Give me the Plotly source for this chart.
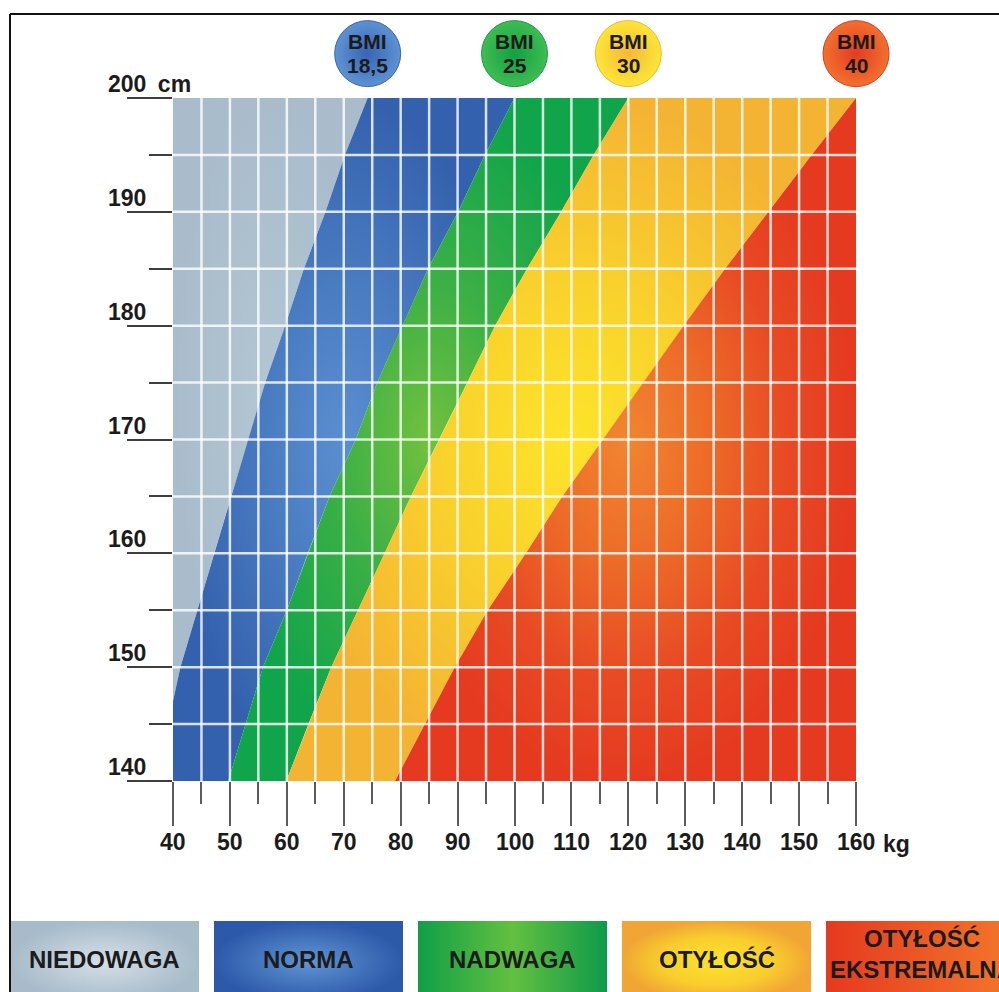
import plotly.graph_objects as go

# Heights (cm) at which the category limits are tabulated
heights = [140, 145, 150, 155, 160, 165, 170, 175, 180, 185, 190, 195, 200]

# Limit between underweight and normal (starts where it enters the chart at 40 kg)
under_heights = [147, 150, 155, 160, 165, 170, 175, 180, 185, 190, 195, 200]
under_limit = [40.0, 41.3, 44.3, 47.2, 50.2, 53.3, 56.2, 59.7, 63.0, 66.8, 70.2, 74.2]

# Limits (kg) at each height in `heights`
normal_limit = [49.7, 52.8, 55.8, 60.0, 63.7, 67.5, 72.1, 75.9, 80.3, 84.8, 90.1, 94.8, 100.0]
over_limit = [59.9, 63.8, 67.8, 72.5, 77.2, 81.8, 86.8, 91.7, 96.6, 102.2, 108.2, 113.9, 120.0]
obese_limit = [79.0, 84.3, 89.5, 95.3, 102.0, 108.4, 115.5, 122.7, 129.7, 137.0, 144.6, 152.2, 160.0]

bmi_labels = ["18,5", "25", "30", "40"]
weight_ticks = [40, 50, 60, 70, 80, 90, 100, 110, 120, 130, 140, 150, 160]
height_ticks = [140, 150, 160, 170, 180, 190, 200]
categories = ["NIEDOWAGA", "NORMA", "NADWAGA", "OTYŁOŚĆ", "OTYŁOŚĆ<br>EKSTREMALNA"]

W, H = 999, 992
X_MIN, X_MAX = weight_ticks[0], weight_ticks[-1]
Y_MIN, Y_MAX = height_ticks[0], height_ticks[-1]

# Chart body spans pixels 98..781 vertically; the y axis is stretched to the
# top of the page so the BMI badges can sit above 200 cm on the same scale.
PLOT_TOP_PX, PLOT_BOTTOM_PX = 98, 781
Y_TOP = Y_MIN + (Y_MAX - Y_MIN) * PLOT_BOTTOM_PX / (PLOT_BOTTOM_PX - PLOT_TOP_PX)

NUM_FONT = "Liberation Sans, Arial, sans-serif"
WORD_FONT = "Liberation Sans Narrow, Arial Narrow, Liberation Sans, Arial, sans-serif"
INK = "#1b1b1b"

fig = go.Figure()


def band(xs, ys, scale, kind="radial"):
    fig.add_trace(go.Scatter(
        x=xs, y=ys, mode="lines", line=dict(width=0), fill="toself",
        fillgradient=dict(type=kind, colorscale=scale),
        hoverinfo="skip", showlegend=False,
    ))


# Underweight
band([X_MIN] + under_limit[::-1], [Y_MAX] + under_heights[::-1],
     [[0, "#b4c6d3"], [1, "#a8bccb"]])
# Normal
band([X_MIN] + under_limit + normal_limit[::-1],
     [Y_MIN] + under_heights + heights[::-1],
     [[0, "#5a8ed0"], [0.45, "#4a7cc2"], [1, "#3461ad"]])
# Overweight
band(normal_limit + over_limit[::-1], heights + heights[::-1],
     [[0, "#72c13e"], [0.45, "#3db045"], [1, "#10a44b"]])
# Obesity
band(over_limit + obese_limit[::-1], heights + heights[::-1],
     [[0, "#fde42a"], [0.45, "#f9d22c"], [1, "#f4b433"]])
# Extreme obesity
band(obese_limit + [X_MAX], heights + [Y_MIN],
     [[0, "#f18530"], [0.35, "#ed6c28"], [0.7, "#e84a24"], [1, "#e53a20"]])

# BMI badges above the top edge, at the weight where each limit meets 200 cm
badge_x = [under_limit[-1], normal_limit[-1], over_limit[-1], obese_limit[-1]]
BADGE_Y = 203.9
fig.add_trace(go.Scatter(
    x=badge_x, y=[BADGE_Y] * len(badge_x), mode="markers", cliponaxis=False,
    marker=dict(size=66,
                color=["#5e92d4", "#3ebd52", "#fde636", "#f3702e"],
                gradient=dict(type="radial",
                              color=["#3865b2", "#12a043", "#f4b838", "#e23c22"]),
                line=dict(width=1, color=["#3a64a8", "#1a9a48", "#efb43a", "#d93a22"])),
    hoverinfo="skip", showlegend=False,
))

# Legend boxes, drawn on a full-page overlay axis in pixel units
BOX_X0, BOX_W, BOX_STEP, BOX_TOP = 10, 189, 204, 921
box_fills = [
    ("radial", [[0, "#d5e0e8"], [1, "#a7bbca"]]),
    ("radial", [[0, "#6196d5"], [1, "#2d59a9"]]),
    ("horizontal", [[0, "#0f9f47"], [0.5, "#63c040"], [1, "#0e9a4a"]]),
    ("radial", [[0, "#fde42b"], [0.6, "#f9cd2d"], [1, "#f1a535"]]),
    ("horizontal", [[0, "#e6391f"], [1, "#f3772a"]]),
]
for i, (kind, scale) in enumerate(box_fills):
    left = BOX_X0 + i * BOX_STEP
    fig.add_trace(go.Scatter(
        x=[left, left + BOX_W, left + BOX_W, left, left],
        y=[BOX_TOP, BOX_TOP, H + 10, H + 10, BOX_TOP],
        mode="lines", line=dict(width=0), fill="toself",
        fillgradient=dict(type=kind, colorscale=scale),
        xaxis="x2", yaxis="y2", hoverinfo="skip", showlegend=False,
    ))

annotations = []
for i, name in enumerate(categories):
    cx = BOX_X0 + i * BOX_STEP + BOX_W / 2
    two_lines = "<br>" in name
    annotations.append(dict(
        x=cx + (1 if two_lines else 0), y=(954 if two_lines else 959),
        xref="x2", yref="y2",
        text=name, showarrow=False, xanchor="center", yanchor="middle",
        font=dict(family=WORD_FONT, size=24, color=INK, weight="bold"),
    ))

# Badge captions
for xb, lab in zip(badge_x, bmi_labels):
    annotations.append(dict(x=xb, y=BADGE_Y, xref="x", yref="y", text="BMI",
                            showarrow=False, yshift=12.5, borderpad=0,
                            font=dict(family=WORD_FONT, size=21, color=INK, weight="bold")))
    annotations.append(dict(x=xb, y=BADGE_Y, xref="x", yref="y", text=lab,
                            showarrow=False, yshift=-12, borderpad=0,
                            font=dict(family=WORD_FONT, size=21, color=INK, weight="bold")))

# Height labels sitting on their tick lines
for h in height_ticks:
    annotations.append(dict(
        x=106 / W, y=h, xref="paper", yref="y", xanchor="left", yanchor="bottom",
        text=f"{h}\u2002cm" if h == Y_MAX else str(h), showarrow=False, yshift=-1,
        font=dict(family=NUM_FONT, size=23, color=INK, weight="bold"),
    ))

# Weight labels
for w in weight_ticks:
    annotations.append(dict(
        x=w, y=Y_MIN, xref="x", yref="y", xanchor="center", yanchor="middle",
        text=str(w), showarrow=False, yshift=-61,
        font=dict(family=NUM_FONT, size=23, color=INK, weight="bold"),
    ))
annotations.append(dict(
    x=X_MAX, y=Y_MIN, xref="x", yref="y", xanchor="left", yanchor="middle",
    text="kg", showarrow=False, yshift=-63, xshift=25,
    font=dict(family=NUM_FONT, size=23, color=INK, weight="bold"),
))

# White grid drawn over the coloured bands
shapes = []
for w in range(X_MIN + 5, X_MAX, 5):
    shapes.append(dict(type="line", xref="x", yref="y", x0=w, x1=w, y0=Y_MIN, y1=Y_MAX,
                       layer="above", line=dict(color="rgba(255,255,255,0.82)", width=2.5)))
for h in range(Y_MIN + 5, Y_MAX, 5):
    shapes.append(dict(type="line", xref="x", yref="y", x0=X_MIN, x1=X_MAX, y0=h, y1=h,
                       layer="above", line=dict(color="rgba(255,255,255,0.82)", width=2.5)))

# Page frame (top and left edges)
FRAME_X, FRAME_Y = 10 / W, 1 - 14 / H
shapes.append(dict(type="line", xref="paper", yref="paper", x0=FRAME_X, x1=1.01,
                   y0=FRAME_Y, y1=FRAME_Y, line=dict(color="#111", width=2)))
shapes.append(dict(type="line", xref="paper", yref="paper", x0=FRAME_X, x1=FRAME_X,
                   y0=-0.01, y1=FRAME_Y, line=dict(color="#111", width=2)))

tick_style = dict(ticks="outside", tickwidth=2, showticklabels=False,
                  showgrid=False, zeroline=False, showline=False)

fig.update_layout(
    width=W, height=H,
    margin=dict(l=0, r=0, t=0, b=0),
    paper_bgcolor="white", plot_bgcolor="rgba(0,0,0,0)",
    showlegend=False,
    xaxis=dict(domain=[173 / W, 856 / W], range=[X_MIN, X_MAX], anchor="y",
               tickvals=weight_ticks, ticklen=44, tickcolor="#5c5c5c",
               minor=dict(tickvals=list(range(X_MIN + 5, X_MAX, 10)), ticks="outside",
                          ticklen=22, tickwidth=2, tickcolor="#5c5c5c", showgrid=False),
               **tick_style),
    yaxis=dict(domain=[(H - PLOT_BOTTOM_PX) / H, 1], range=[Y_MIN, Y_TOP], anchor="x",
               tickvals=height_ticks, ticklen=45, tickcolor="#3e3e3e",
               minor=dict(tickvals=list(range(Y_MIN + 5, Y_MAX, 10)), ticks="outside",
                          ticklen=23, tickwidth=2, tickcolor="#3e3e3e", showgrid=False),
               **tick_style),
    xaxis2=dict(domain=[0, 1], range=[0, W], anchor="y2", visible=False),
    yaxis2=dict(domain=[0, 1], range=[H, 0], anchor="x2", visible=False),
    annotations=annotations,
    shapes=shapes,
)

fig.write_html("out.html")
